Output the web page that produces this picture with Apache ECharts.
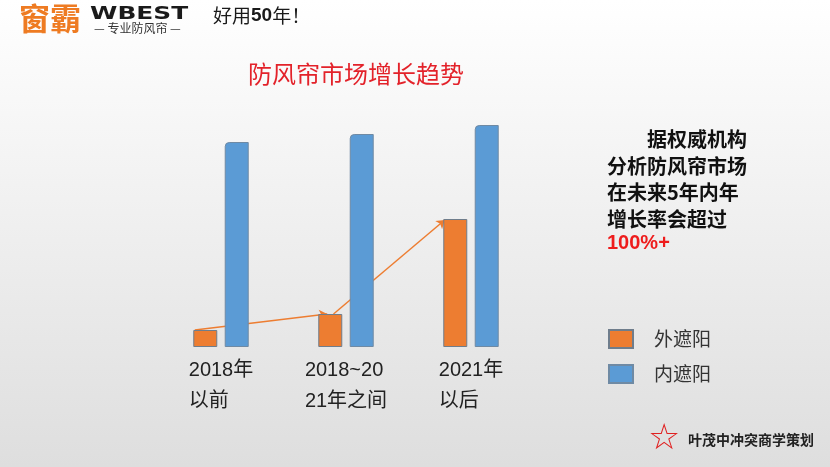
<!DOCTYPE html>
<html lang="zh">
<head>
  <meta charset="UTF-8">
  <title>防风帘市场增长趋势</title>
  <script src="https://cdn.jsdelivr.net/npm/echarts@6.0.0/dist/echarts.min.js"></script>
  <style>
    html, body { margin: 0; padding: 0; }
    #chart { width: 830px; height: 467px; }
  </style>
</head>
<body>
  <div id="chart"></div>
  <script>
    // 数据
    var categories = ['2018年\n以前', '2018~20\n21年之间', '2021年\n以后'];
    var seriesNames = ['外遮阳', '内遮阳'];
    var outerShade = [17, 33, 128];
    var innerShade = [205, 213, 222];
    // 趋势箭头（x 为组序号刻度 0~3，y 与柱子同刻度）
    var trendArrows = [
      [[0.29, 17], [1.35, 33]],
      [[1.40, 33], [2.29, 127]]
    ];
    var noteLines = ['\u3000\u3000据权威机构', '分析防风帘市场', '在未来5年内年', '增长率会超过'];
    var noteHighlight = '100%+';

    var cjk = '"Noto Sans CJK SC", "Liberation Sans", sans-serif';
    var chart = echarts.init(document.getElementById('chart'));

    chart.setOption({
      backgroundColor: {
        type: 'linear', x: 0, y: 0, x2: 0, y2: 1,
        colorStops: [{ offset: 0, color: '#ffffff' }, { offset: 1, color: '#dedede' }]
      },
      textStyle: { fontFamily: cjk },
      animation: false,
      title: {
        text: '防风帘市场增长趋势',
        left: 243, top: 57,
        textStyle: { fontSize: 24, fontWeight: 'normal', color: '#e3222a', fontFamily: cjk }
      },
      legend: {
        data: seriesNames,
        orient: 'vertical',
        left: 608, top: 329,
        padding: 0,
        itemWidth: 24, itemHeight: 18, itemGap: 15,
        icon: 'rect',
        textStyle: { fontSize: 19, lineHeight: 19, color: '#333', padding: [0, 0, 0, 16], fontFamily: cjk }
      },
      grid: { left: 158.5, right: 296.5, top: 117, bottom: 120 },
      xAxis: [{
        type: 'category',
        data: categories,
        axisLine: { show: false },
        axisTick: { show: false },
        axisLabel: {
          margin: 8,
          formatter: function (v) {
            return v.split('\n').map(function (s) { return '{l|' + s + '}'; }).join('\n');
          },
          rich: { l: { align: 'left', fontSize: 20, lineHeight: 31, color: '#222', fontFamily: '"Liberation Sans", "Noto Sans CJK SC", sans-serif' } }
        }
      }, {
        type: 'value', min: 0, max: 3, show: false
      }],
      yAxis: { type: 'value', min: 0, max: 230, show: false },
      series: [{
        name: seriesNames[0],
        type: 'bar',
        data: outerShade,
        barWidth: 24,
        barGap: '31%',
        itemStyle: { color: '#ed7d31', borderColor: '#6f7d8c', borderWidth: 1 }
      }, {
        name: seriesNames[1],
        type: 'bar',
        data: innerShade,
        barWidth: 24,
        itemStyle: { color: '#5b9bd5', borderColor: '#6f8aa4', borderWidth: 1, borderRadius: [4, 0, 0, 0] }
      }, {
        type: 'lines',
        coordinateSystem: 'cartesian2d',
        xAxisIndex: 1,
        silent: true,
        symbol: ['none', 'arrow'],
        symbolSize: 8,
        lineStyle: { color: '#ed7d31', width: 1.5, opacity: 1 },
        data: trendArrows.map(function (c) { return { coords: c }; })
      }],
      graphic: [
        { type: 'text', left: 19, top: 3, style: { text: '窗霸', fontSize: 31, fontWeight: 'bold', fill: '#ee7b22', fontFamily: cjk } },
        { type: 'text', x: 90, y: 5, scaleX: 1.38, style: { text: 'WBEST', fontSize: 18, fontWeight: 'bold', fill: '#1a1a1a', fontFamily: '"DejaVu Sans", sans-serif' } },
        { type: 'text', left: 94, top: 22, style: { text: '— 专业防风帘 —', fontSize: 12, fill: '#333', fontFamily: cjk } },
        { type: 'text', left: 213, top: 6, style: {
          text: '好用{b|50}年！', fontSize: 19, fill: '#1a1a1a', fontFamily: cjk,
          rich: { b: { fontSize: 19, fontWeight: 'bold', fill: '#1a1a1a', fontFamily: '"Liberation Sans", sans-serif' } }
        } },
        { type: 'text', left: 607, top: 126, style: {
          text: noteLines.join('\n'),
          fontSize: 20, lineHeight: 26.7, fontWeight: 'bold', fill: '#111', fontFamily: cjk
        } },
        { type: 'text', left: 607, top: 233, style: {
          text: noteHighlight, fontSize: 20, fontWeight: 'bold', fill: '#ee1c1c', fontFamily: '"Liberation Sans", sans-serif'
        } },
        { type: 'text', left: 648, top: 422, style: { text: '☆', fontSize: 36, fill: '#e02020', fontFamily: '"DejaVu Sans", sans-serif' } },
        { type: 'text', left: 688, top: 433, style: { text: '叶茂中冲突商学策划', fontSize: 14, fontWeight: 'bold', fill: '#222', fontFamily: cjk } }
      ]
    });
  </script>
</body>
</html>
